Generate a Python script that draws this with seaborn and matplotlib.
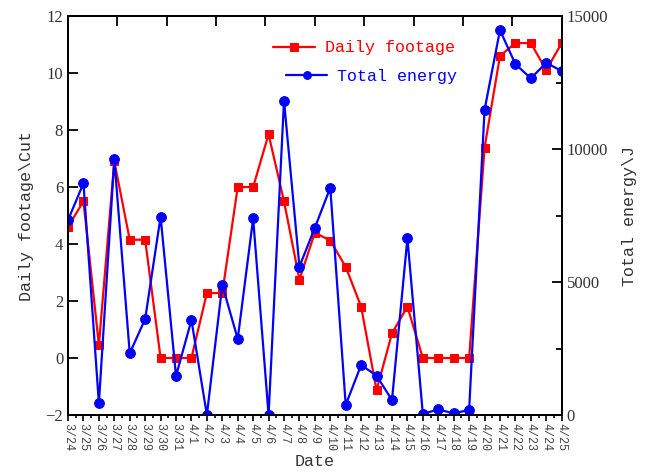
import numpy as np
import pandas as pd
import matplotlib
matplotlib.use('Agg')
import matplotlib.pyplot as plt
import seaborn as sns
from matplotlib.ticker import MultipleLocator

dates = ['3/24', '3/25', '3/26', '3/27', '3/28', '3/29', '3/30', '3/31',
         '4/1', '4/2', '4/3', '4/4', '4/5', '4/6', '4/7', '4/8', '4/9', '4/10',
         '4/11', '4/12', '4/13', '4/14', '4/15', '4/16', '4/17', '4/18', '4/19',
         '4/20', '4/21', '4/22', '4/23', '4/24', '4/25']
footage = [4.6, 5.5, 0.45, 6.9, 4.15, 4.15, 0.0, 0.0, 0.0, 2.28, 2.28, 6.0, 6.0,
           7.85, 5.5, 2.75, 4.4, 4.12, 3.2, 1.8, -1.13, 0.87, 1.8, 0.0, 0.0, 0.0,
           0.0, 7.38, 10.6, 11.05, 11.05, 10.1, 11.05]
energy = [7330, 8710, 440, 9620, 2320, 3610, 7455, 1470, 3570, 0, 4890, 2860, 7390,
          0, 11815, 5580, 7040, 8545, 380, 1880, 1480, 560, 6640, 40, 210, 60,
          190, 11470, 14470, 13190, 12660, 13240, 12930]

df = pd.DataFrame({'pos': np.arange(len(dates)), 'date': dates,
                   'footage': footage, 'energy': energy})

sns.set_style('ticks')
plt.rcParams['font.family'] = ['Liberation Serif', 'DejaVu Sans']
mono = 'Liberation Mono'

fig = plt.figure(figsize=(6.51, 4.75), dpi=100)
ax = fig.add_axes([0.1045, 0.1263, 0.7583, 0.84])
ax2 = ax.twinx()

sns.lineplot(data=df, x='pos', y='footage', ax=ax, color='#ff0000', lw=1.6,
             marker='s', markersize=5.8, markeredgecolor='#ff0000')
sns.lineplot(data=df, x='pos', y='energy', ax=ax2, color='#0000ff', lw=1.6,
             marker='o', markersize=7, markeredgecolor='#0000ff')

ax.set_xlim(0, len(dates) - 1)
ax.set_ylim(-2, 12)
ax2.set_ylim(0, 15000)

ax.set_xticks(df['pos'])
ax.set_xticklabels(dates, rotation=-90, family=mono, fontsize=8.5, color='#444444')
ax.xaxis.set_minor_locator(MultipleLocator(0.5))
ax.tick_params(axis='x', which='major', direction='out', length=4, width=1.2, pad=2,
               top=False, color='black')
ax.tick_params(axis='x', which='minor', direction='out', length=2.5, width=1.2, top=False,
               color='black')
ax.yaxis.set_major_locator(MultipleLocator(2))
ax.tick_params(axis='y', direction='in', length=7, width=1.3, labelsize=12,
               labelcolor='#333333', right=False, color='black')

ax2.yaxis.set_major_locator(MultipleLocator(5000))
ax2.yaxis.set_minor_locator(MultipleLocator(2500))
ax2.tick_params(axis='y', which='major', direction='in', length=7, width=1.3,
                labelsize=12, labelcolor='#333333', color='black')
ax2.tick_params(axis='y', which='minor', direction='in', length=4, width=1.3, color='black')

# top spine carries its own 10 inward divisions
top = ax.twiny()
top.set_xlim(0, 10)
top.set_xticks(np.arange(1, 10))
top.set_xticklabels([])
top.tick_params(axis='x', direction='in', length=7, width=1.3, top=True, bottom=False,
                color='black')

for a in (ax, ax2, top):
    for s in a.spines.values():
        s.set_color('black')
        s.set_linewidth(1.2)

ax.set_xlabel('Date', family=mono, fontsize=12, color='#333333', labelpad=2)
ax.set_ylabel(r'Daily footage\Cut', family=mono, fontsize=12, color='#333333', labelpad=8)
ax2.set_ylabel(r'Total energy\J', family=mono, fontsize=12, color='#333333', labelpad=10)

h1 = ax.get_lines()[0]
h2 = ax2.get_lines()[0]
leg1 = top.legend([h1], ['Daily footage'], loc='center left', bbox_to_anchor=(0.415, 0.92),
                  frameon=False, borderpad=0, borderaxespad=0, handlelength=2.5,
                  handletextpad=0.6, markerscale=0.9, prop={'family': mono, 'size': 12})
for t in leg1.get_texts():
    t.set_color('#ff0000')
top.add_artist(leg1)
leg2 = top.legend([h2], ['Total energy'], loc='center left', bbox_to_anchor=(0.441, 0.848),
                  frameon=False, borderpad=0, borderaxespad=0, handlelength=2.5,
                  handletextpad=0.6, markerscale=0.8, prop={'family': mono, 'size': 12})
for t in leg2.get_texts():
    t.set_color('#0000ff')

fig.savefig('out.png', dpi=100)
